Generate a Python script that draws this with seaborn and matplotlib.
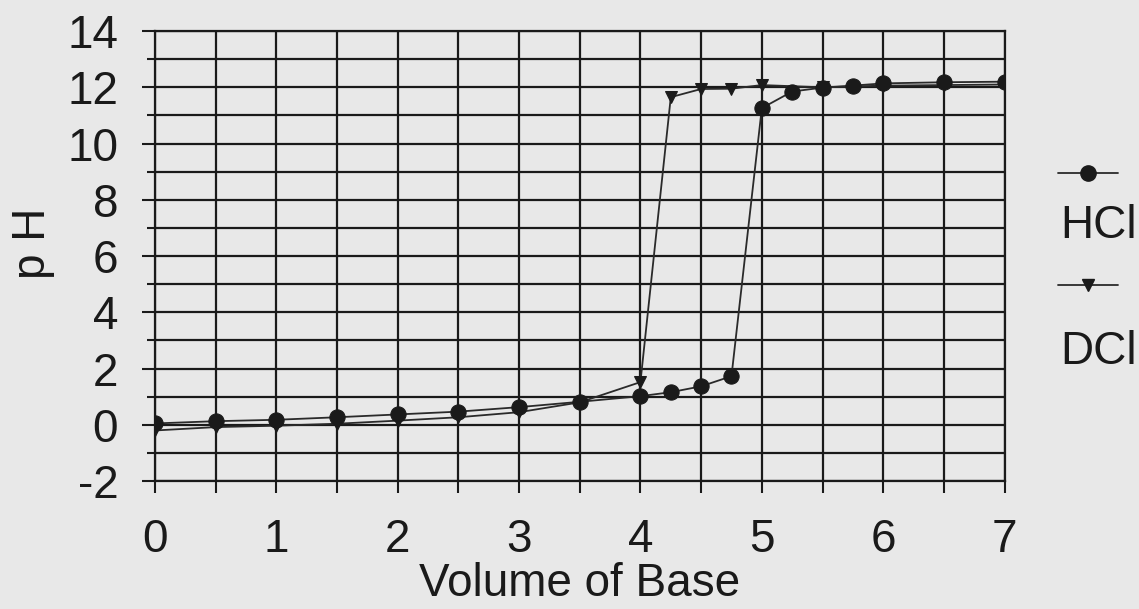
import numpy as np
import pandas as pd
import matplotlib
matplotlib.use('Agg')
import matplotlib.pyplot as plt
from matplotlib.lines import Line2D
from matplotlib.ticker import MultipleLocator
import seaborn as sns

# titration data
vol_hcl = [0, 0.5, 1, 1.5, 2, 2.5, 3, 3.5, 4, 4.25, 4.5, 4.75, 5, 5.25, 5.5, 5.75, 6, 6.5, 7]
ph_hcl = [0.05, 0.13, 0.18, 0.27, 0.37, 0.47, 0.63, 0.82, 1.02, 1.16, 1.37, 1.73,
          11.26, 11.85, 11.99, 12.06, 12.14, 12.18, 12.2]

vol_dcl = [0, 0.5, 1, 1.5, 2, 2.5, 3, 3.5, 4, 4.25, 4.5, 4.75, 5, 5.5, 6, 6.5, 7]
ph_dcl = [-0.2, -0.08, -0.03, 0.04, 0.15, 0.27, 0.45, 0.8, 1.52,
          11.65, 11.94, 11.95, 12.08, 12.0, 12.06, 12.08, 12.1]

bg = '#e8e8e8'
ink = '#1a1a1a'

sns.set_theme(style='ticks')
plt.rcParams['font.family'] = ['Liberation Sans', 'DejaVu Sans']
plt.rcParams['axes.unicode_minus'] = False

fig, ax = plt.subplots(figsize=(11.39, 6.09), dpi=100)
fig.patch.set_facecolor(bg)
ax.set_facecolor(bg)
fig.subplots_adjust(left=0.136, right=0.882, bottom=0.21, top=0.949)

sns.lineplot(x=vol_dcl, y=ph_dcl, marker='v', markersize=9, color='#2a2a2a',
             mfc=ink, mec=ink, linewidth=1.3, estimator=None, sort=False, ax=ax, zorder=3)
sns.lineplot(x=vol_hcl, y=ph_hcl, marker='o', markersize=11, color='#2a2a2a',
             mfc=ink, mec=ink, linewidth=1.3, estimator=None, sort=False, ax=ax, zorder=4)

ax.set_xlim(0, 7)
ax.set_ylim(-2, 14)
ax.xaxis.set_major_locator(MultipleLocator(1))
ax.xaxis.set_minor_locator(MultipleLocator(0.5))
ax.yaxis.set_major_locator(MultipleLocator(2))
ax.yaxis.set_minor_locator(MultipleLocator(1))

ax.set_axisbelow(True)
ax.grid(which='both', color=ink, linewidth=1.6)
for s in ax.spines.values():
    s.set_color(ink)
    s.set_linewidth(1.6)

ax.tick_params(axis='y', which='major', length=9.4, width=1.5, color=ink,
               labelsize=33, labelcolor=ink, pad=17)
ax.tick_params(axis='y', which='minor', length=5.8, width=1.5, color=ink)
ax.tick_params(axis='x', which='both', length=8.6, width=1.5, color=ink,
               labelsize=33, labelcolor=ink, pad=18)

ax.set_xlabel('Volume of Base', fontsize=33, color=ink, labelpad=0)
ax.set_ylabel('p H', fontsize=33, color=ink)
ax.yaxis.set_label_coords(-0.118, 0.529)

# legend: sample line above each label
for y_line, y_text, mk, ms, label in [(0.716, 0.609, 'o', 11, 'HCl'), (0.532, 0.402, 'v', 9, 'DCl')]:
    fig.add_artist(Line2D([0.929, 0.982], [y_line, y_line], transform=fig.transFigure,
                          color='#2a2a2a', linewidth=1.3))
    fig.add_artist(Line2D([0.9555], [y_line], transform=fig.transFigure, marker=mk,
                          markersize=ms, mfc=ink, mec=ink, linestyle='none'))
    fig.text(0.931, y_text, label, fontsize=33, color=ink, va='baseline', ha='left')

fig.savefig('out.png', dpi=100, facecolor=bg)
